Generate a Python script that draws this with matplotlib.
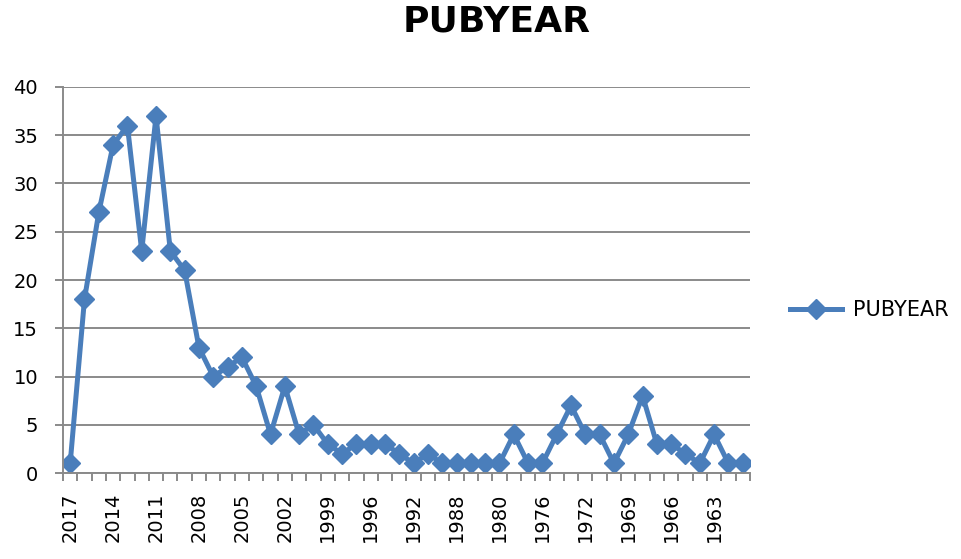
import matplotlib
matplotlib.use("Agg")
import matplotlib.pyplot as plt

# Publication years (categories, newest first) and counts
years = [2017, 2016, 2015, 2014, 2013, 2012, 2011, 2010, 2009, 2008,
         2007, 2006, 2005, 2004, 2003, 2002, 2001, 2000, 1999, 1998,
         1997, 1996, 1995, 1994, 1992, 1991, 1990, 1988, 1986, 1983,
         1980, 1979, 1977, 1976, 1975, 1973, 1972, 1971, 1970, 1969,
         1968, 1967, 1966, 1965, 1964, 1963, 1962, 1960]
counts = [1, 18, 27, 34, 36, 23, 37, 23, 21, 13,
          10, 11, 12, 9, 4, 9, 4, 5, 3, 2,
          3, 3, 3, 2, 1, 2, 1, 1, 1, 1,
          1, 4, 1, 1, 4, 7, 4, 4, 1, 4,
          8, 3, 3, 2, 1, 4, 1, 1]
y_ticks = [0, 5, 10, 15, 20, 25, 30, 35, 40]

blue = "#4A7EBB"
grid = "#8A8A8A"

fig = plt.figure(figsize=(9.62, 5.59), dpi=100)
ax = fig.add_axes([0.0655, 0.1538, 0.714, 0.6906])

x = list(range(len(years)))
ax.plot(x, counts, color=blue, lw=3.6, marker="D", ms=10,
        mfc=blue, mec=blue, label="PUBYEAR")

ax.set_xlim(-0.5, len(years) - 0.5)
ax.set_ylim(0, 40)
ax.set_yticks(y_ticks)
ax.yaxis.grid(True, color=grid, lw=1.4)
ax.set_axisbelow(True)

ax.set_xticks([i for i in x if i % 3 == 0])
ax.set_xticklabels([str(years[i]) for i in x if i % 3 == 0], rotation=90,
                   fontsize=14, family="DejaVu Sans")
ax.set_xticks([i - 0.5 for i in range(len(years) + 1)], minor=True)
ax.tick_params(axis="x", which="major", length=0, pad=14)
ax.tick_params(axis="x", which="minor", length=6, color=grid, width=1.4)
ax.tick_params(axis="y", length=6, color=grid, width=1.4, labelsize=14, pad=12)
for lab in ax.get_yticklabels():
    lab.set_family("DejaVu Sans")

for s in ["top", "right"]:
    ax.spines[s].set_visible(False)
for s in ["left", "bottom"]:
    ax.spines[s].set_color(grid)
    ax.spines[s].set_linewidth(1.4)

fig.text(0.516, 0.962, "PUBYEAR", ha="center", va="center",
         fontsize=26, fontweight="bold", family="DejaVu Sans")

leg = fig.legend(loc="center left", bbox_to_anchor=(0.821, 0.445), frameon=False,
                 fontsize=15, handlelength=2.5, handletextpad=0.55,
                 borderaxespad=0, borderpad=0)

fig.savefig("out.png", dpi=100)
